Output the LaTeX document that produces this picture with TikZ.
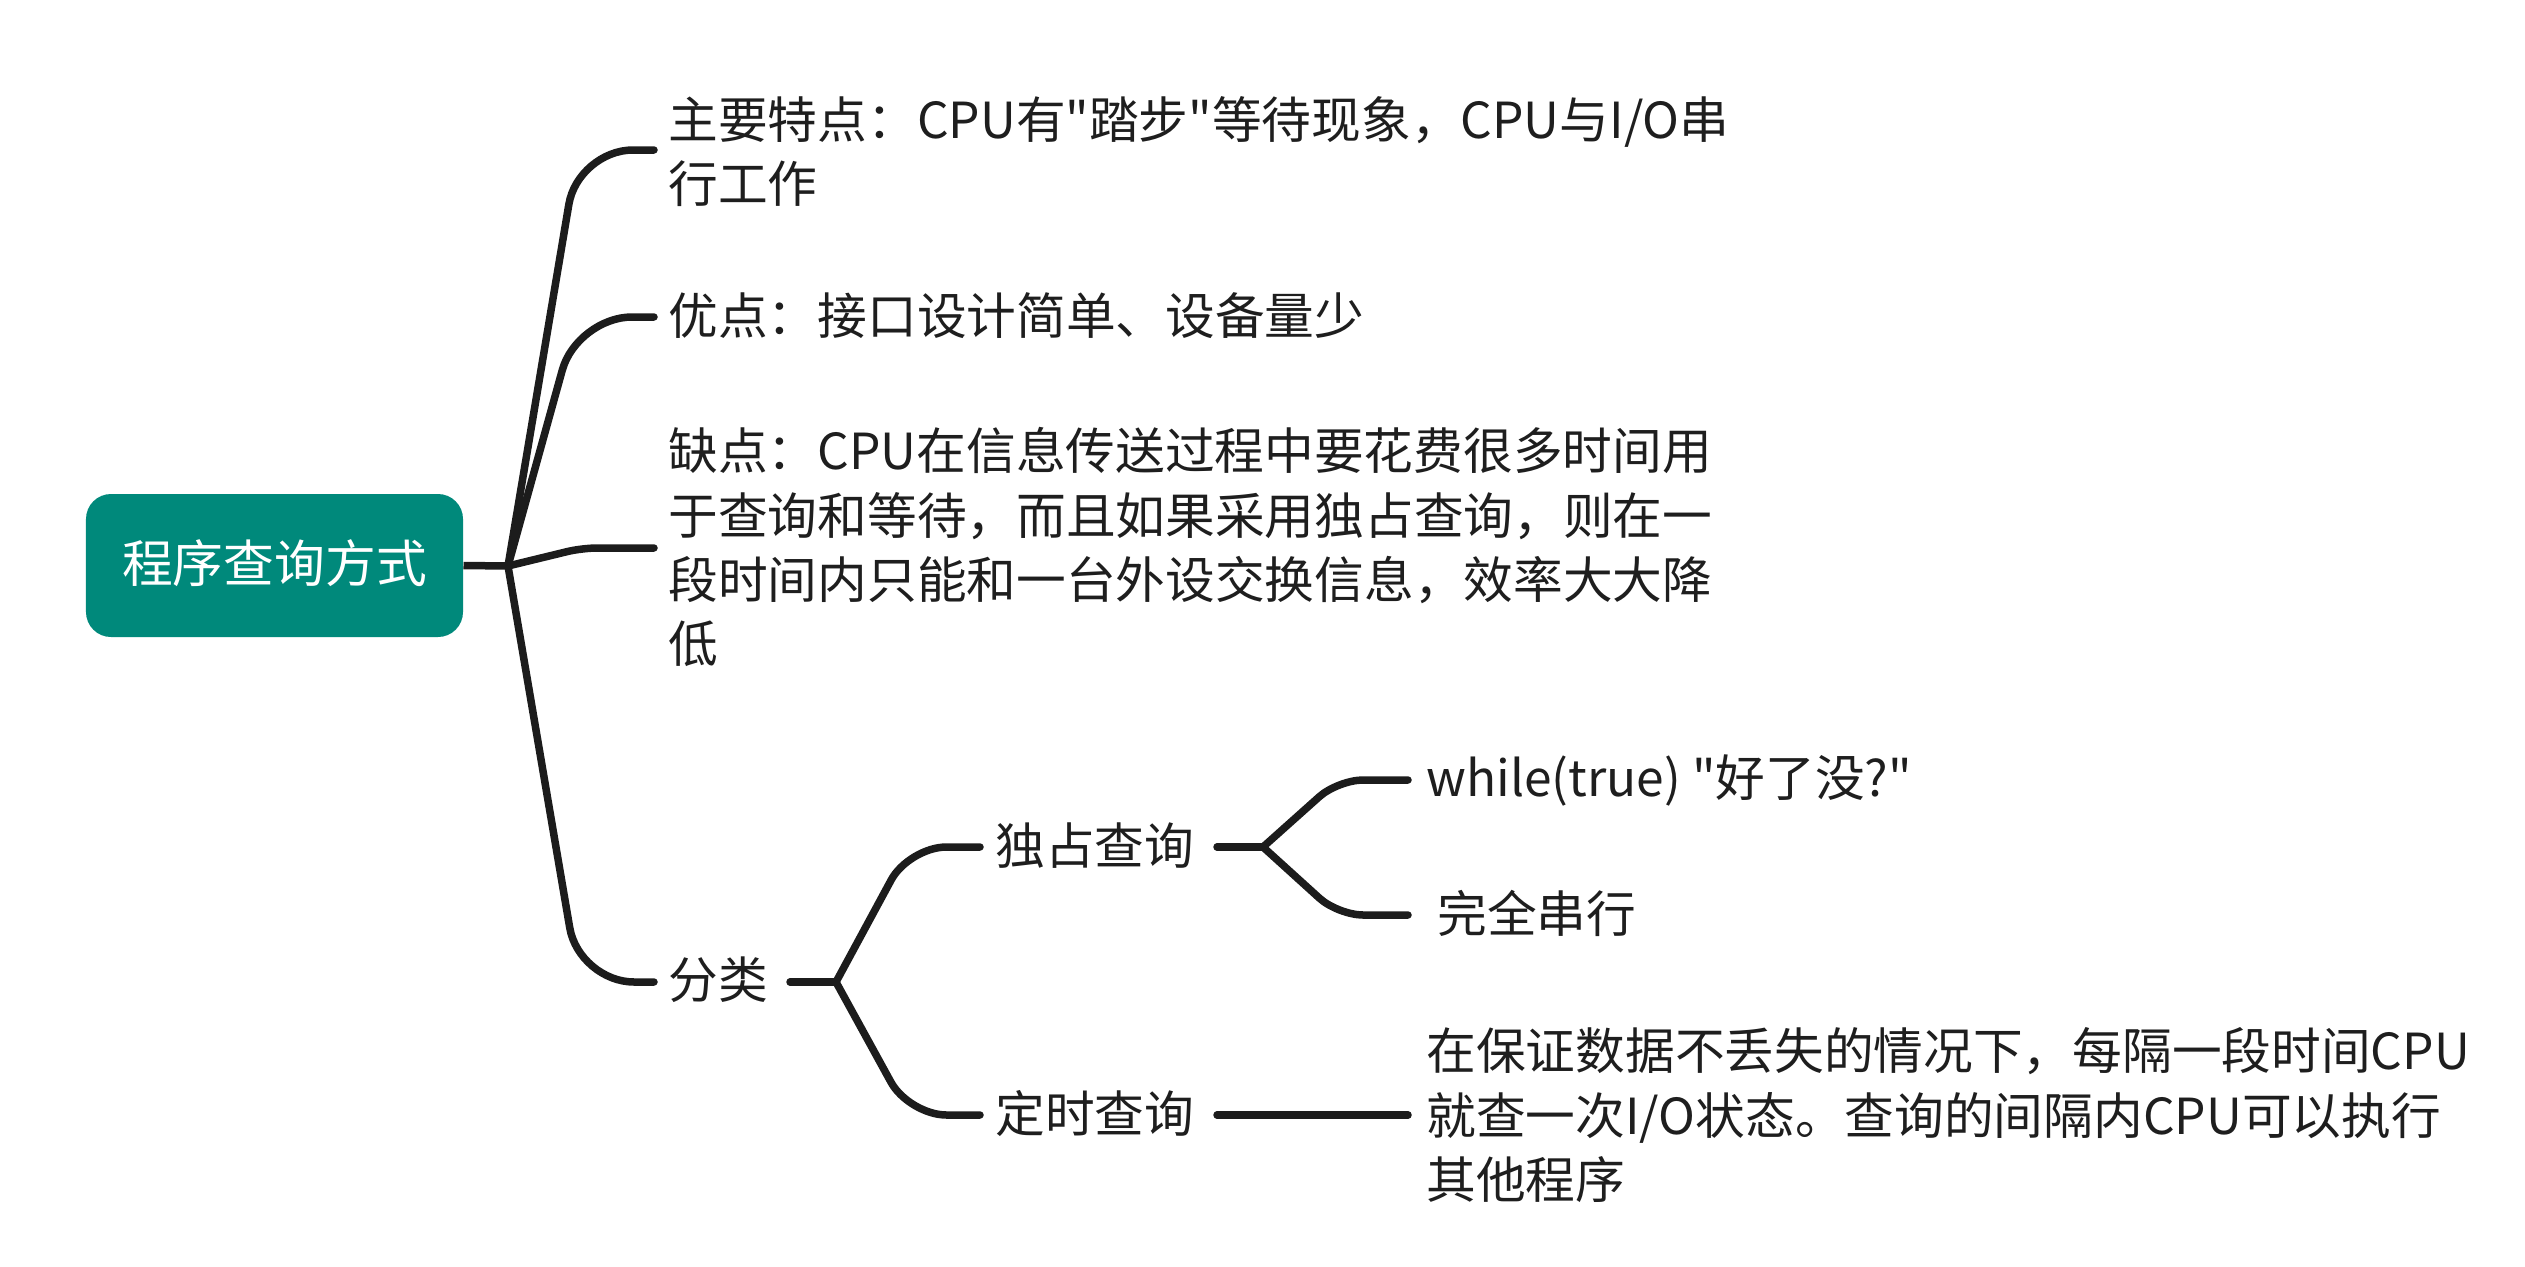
\documentclass[tikz,border=0pt]{standalone}
\usepackage{fontspec}
\setmainfont{Noto Sans CJK SC}[Ligatures=TeXOff]
\definecolor{rootfill}{RGB}{0,137,123}
\definecolor{linec}{RGB}{28,28,28}
\definecolor{textc}{RGB}{30,30,30}
\newcommand\ms{\rule[-0.16em]{0pt}{1.0em}}
\lineskiplimit=-100pt
\lineskip=0pt
\begin{document}
\begin{tikzpicture}[x=0.4pt,y=-0.4pt,
  br/.style={draw=linec, line width=3pt, line cap=round, line join=round},
  topic/.style={anchor=west, inner sep=0pt, text=textc, align=left,
    font=\fontsize{19.88pt}{25.72pt}\selectfont},
  rootbox/.style={rectangle, rounded corners=10pt, fill=rootfill, text=white,
    minimum width=150.8pt, minimum height=57.2pt, inner sep=0pt,
    font=\fontsize{20.3pt}{24pt}\selectfont}]
\useasboundingbox (0,0) rectangle (2525,1266);

% nodes
\node[rootbox] (root) at (274.5,565.5) {\ms 程序查询方式};
\node[topic] (t1) at (668,153.5) {\ms 主要特点：CPU有"踏步"等待现象，CPU与I/O串\\\ms 行工作};
\node[topic] (t2) at (668,318) {\ms 优点：接口设计简单、设备量少};
\node[topic] (t3) at (668,549) {\ms 缺点：CPU在信息传送过程中要花费很多时间用\\\ms 于查询和等待，而且如果采用独占查询，则在一\\\ms 段时间内只能和一台外设交换信息，效率大大降\\\ms 低};
\node[topic] (t4) at (668,982) {\ms 分类};
\node[topic] (t5) at (995,848) {\ms 独占查询};
\node[topic] (t6) at (995,1115) {\ms 定时查询};
\node[topic] (t7) at (1426,780) {\ms while(true) "好了没?"};
\node[topic] (t8) at (1437,915) {\ms 完全串行};
\node[topic] (t9) at (1426,1117) {\ms 在保证数据不丢失的情况下，每隔一段时间CPU\\\ms 就查一次I/O状态。查询的间隔内CPU可以执行\\\ms 其他程序};

% junctions and branch ends
\coordinate (hub) at (508,566);
\coordinate (e1) at (654,150);
\coordinate (e2) at (654,317);
\coordinate (e3) at (654,548);
\coordinate (e4) at (654,982);
\coordinate (s4) at (790,982);
\coordinate (hub2) at (836,982);
\coordinate (e5) at (980,847);
\coordinate (e6) at (980,1115);
\coordinate (s5) at (1217,847);
\coordinate (hub3) at (1263,847);
\coordinate (e7) at (1408,780);
\coordinate (e8) at (1408,915);
\coordinate (s6) at (1217,1115);
\coordinate (e9) at (1408,1115);

% connectors
\draw[br, line cap=butt] (root.east) -- (hub);
\draw[br, rounded corners=22pt] (hub) -- ([xshift=-30.4pt]e1) -- (e1);
\draw[br, rounded corners=22pt] (hub) -- ([xshift=-30.8pt]e2) -- (e2);
\draw[br, rounded corners=6pt] (hub) -- ([xshift=-28.8pt]e3) -- (e3);
\draw[br, rounded corners=22pt] (hub) -- ([xshift=-30pt]e4) -- (e4);
\draw[br] (s4) -- (hub2);
\draw[br, rounded corners=15pt] (hub2) -- ([xshift=-28.4pt]e5) -- (e5);
\draw[br, rounded corners=15pt] (hub2) -- ([xshift=-28.4pt]e6) -- (e6);
\draw[br] (s5) -- (hub3);
\draw[br, rounded corners=10pt] (hub3) -- ([xshift=-28pt]e7) -- (e7);
\draw[br, rounded corners=10pt] (hub3) -- ([xshift=-28pt]e8) -- (e8);
\draw[br] (s6) -- (e9);
\end{tikzpicture}
\end{document}
